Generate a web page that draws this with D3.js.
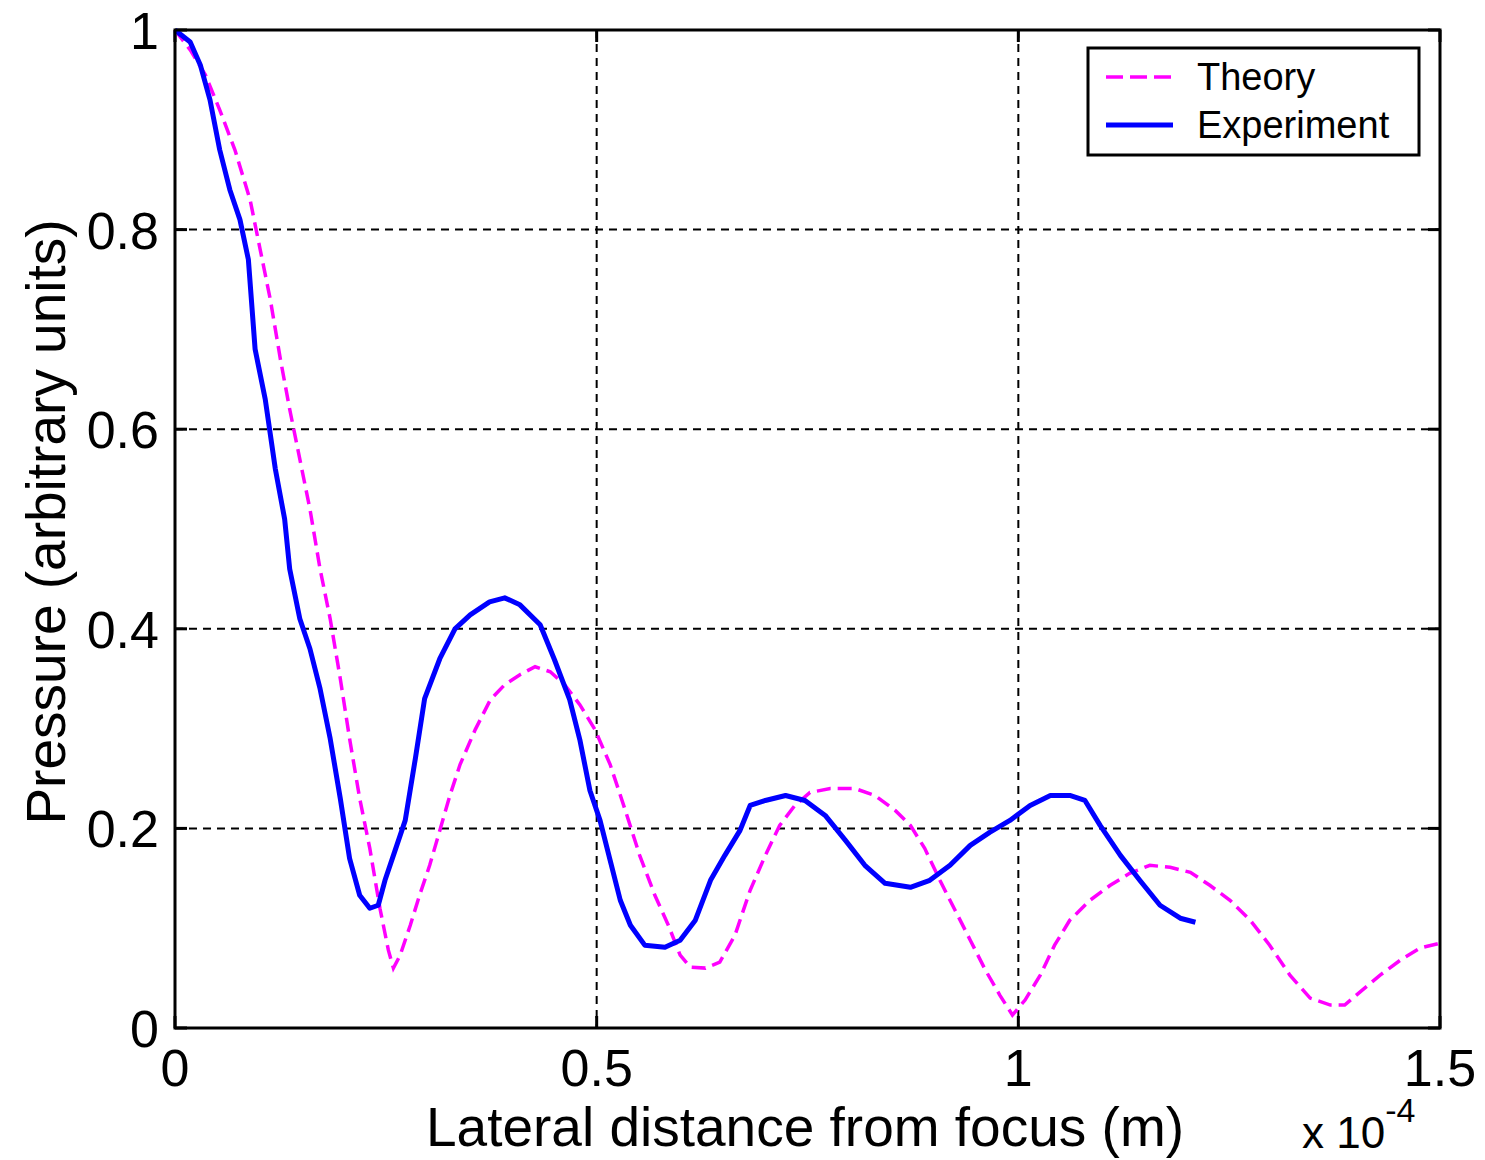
<!DOCTYPE html>
<html>
<head>
<meta charset="utf-8">
<script src="https://cdn.jsdelivr.net/npm/d3@7"></script>
<style>
  body { margin: 0; background: #fff; }
  svg { display: block; font-family: "Liberation Sans", Arial, sans-serif; }
</style>
</head>
<body>
<div id="chart"></div>
<script>
// x values are in units of 1e-4 m
const theoryX = [0, 0.018, 0.036, 0.053, 0.071, 0.089, 0.101, 0.113, 0.125, 0.136, 0.148, 0.16, 0.172, 0.184, 0.196, 0.207, 0.219, 0.231, 0.243, 0.253, 0.259, 0.267, 0.279, 0.29, 0.302, 0.314, 0.326, 0.338, 0.356, 0.374, 0.391, 0.409, 0.427, 0.445, 0.462, 0.48, 0.498, 0.516, 0.534, 0.551, 0.569, 0.585, 0.599, 0.611, 0.629, 0.646, 0.664, 0.682, 0.7, 0.717, 0.735, 0.753, 0.777, 0.806, 0.83, 0.854, 0.872, 0.889, 0.907, 0.925, 0.943, 0.961, 0.978, 0.993, 1.008, 1.026, 1.043, 1.061, 1.085, 1.109, 1.132, 1.156, 1.18, 1.204, 1.227, 1.251, 1.275, 1.298, 1.322, 1.346, 1.37, 1.387, 1.405, 1.429, 1.453, 1.476, 1.5];
const theoryY = [1, 0.98, 0.955, 0.92, 0.88, 0.83, 0.78, 0.73, 0.67, 0.62, 0.57, 0.52, 0.46, 0.41, 0.35, 0.29, 0.23, 0.18, 0.12, 0.078, 0.06, 0.073, 0.103, 0.133, 0.163, 0.198, 0.233, 0.264, 0.299, 0.329, 0.344, 0.354, 0.362, 0.357, 0.344, 0.324, 0.299, 0.264, 0.218, 0.173, 0.133, 0.103, 0.073, 0.061, 0.06, 0.066, 0.093, 0.138, 0.173, 0.203, 0.223, 0.236, 0.24, 0.24, 0.233, 0.218, 0.203, 0.18, 0.148, 0.118, 0.088, 0.058, 0.033, 0.013, 0.028, 0.053, 0.083, 0.108, 0.128, 0.143, 0.155, 0.163, 0.161, 0.156, 0.143, 0.128, 0.108, 0.083, 0.053, 0.03, 0.023, 0.023, 0.036, 0.053, 0.068, 0.08, 0.085];

const experimentX = [0, 0.018, 0.03, 0.0415, 0.053, 0.065, 0.077, 0.087, 0.095, 0.107, 0.119, 0.13, 0.136, 0.148, 0.16, 0.172, 0.184, 0.196, 0.207, 0.219, 0.231, 0.241, 0.249, 0.261, 0.273, 0.285, 0.296, 0.314, 0.332, 0.35, 0.373, 0.391, 0.409, 0.433, 0.45, 0.468, 0.48, 0.492, 0.504, 0.516, 0.528, 0.54, 0.557, 0.581, 0.599, 0.617, 0.635, 0.652, 0.67, 0.682, 0.7, 0.724, 0.747, 0.771, 0.795, 0.818, 0.842, 0.872, 0.895, 0.919, 0.943, 0.966, 0.99, 1.014, 1.038, 1.061, 1.079, 1.097, 1.121, 1.144, 1.168, 1.192, 1.21];
const experimentY = [1, 0.988, 0.965, 0.93, 0.88, 0.84, 0.81, 0.77, 0.68, 0.63, 0.56, 0.51, 0.46, 0.41, 0.38, 0.34, 0.29, 0.23, 0.17, 0.133, 0.12, 0.123, 0.148, 0.178, 0.208, 0.27, 0.33, 0.37, 0.4, 0.414, 0.427, 0.431, 0.424, 0.404, 0.369, 0.329, 0.289, 0.238, 0.208, 0.168, 0.128, 0.103, 0.083, 0.081, 0.088, 0.108, 0.148, 0.173, 0.198, 0.223, 0.228, 0.233, 0.228, 0.213, 0.188, 0.163, 0.145, 0.141, 0.148, 0.163, 0.183, 0.196, 0.208, 0.223, 0.233, 0.233, 0.228, 0.203, 0.173, 0.148, 0.123, 0.11, 0.106];

const xTicks = [0, 0.5, 1, 1.5];
const yTicks = [0, 0.2, 0.4, 0.6, 0.8, 1];
const seriesNames = ['Theory', 'Experiment'];

const width = 1485, height = 1160;
const margin = {top: 30, right: 45, bottom: 132, left: 175};

const svg = d3.select('#chart').append('svg')
    .attr('width', width)
    .attr('height', height);

const xScale = d3.scaleLinear().domain([0, 1.5]).range([margin.left, width - margin.right]);
const yScale = d3.scaleLinear().domain([0, 1]).range([height - margin.bottom, margin.top]);

const x0 = xScale(0), x1 = xScale(1.5), y0 = yScale(0), y1 = yScale(1);

// grid lines (dashed, black)
svg.append('g')
  .selectAll('line')
  .data(xTicks.slice(1, -1))
  .join('line')
    .attr('x1', d => xScale(d)).attr('x2', d => xScale(d))
    .attr('y1', y1).attr('y2', y0)
    .attr('stroke', '#000').attr('stroke-width', 2)
    .attr('stroke-dasharray', '8,6');

svg.append('g')
  .selectAll('line')
  .data(yTicks.slice(1, -1))
  .join('line')
    .attr('x1', x0).attr('x2', x1)
    .attr('y1', d => yScale(d)).attr('y2', d => yScale(d))
    .attr('stroke', '#000').attr('stroke-width', 2)
    .attr('stroke-dasharray', '8,6');

// inward ticks
const tickLen = 12;
svg.append('g')
  .selectAll('line')
  .data(xTicks)
  .join('line')
    .attr('x1', d => xScale(d)).attr('x2', d => xScale(d))
    .attr('y1', y0).attr('y2', y0 - tickLen)
    .attr('stroke', '#000').attr('stroke-width', 3);
svg.append('g')
  .selectAll('line')
  .data(xTicks)
  .join('line')
    .attr('x1', d => xScale(d)).attr('x2', d => xScale(d))
    .attr('y1', y1).attr('y2', y1 + tickLen)
    .attr('stroke', '#000').attr('stroke-width', 3);
svg.append('g')
  .selectAll('line')
  .data(yTicks)
  .join('line')
    .attr('x1', x0).attr('x2', x0 + tickLen)
    .attr('y1', d => yScale(d)).attr('y2', d => yScale(d))
    .attr('stroke', '#000').attr('stroke-width', 3);
svg.append('g')
  .selectAll('line')
  .data(yTicks)
  .join('line')
    .attr('x1', x1).attr('x2', x1 - tickLen)
    .attr('y1', d => yScale(d)).attr('y2', d => yScale(d))
    .attr('stroke', '#000').attr('stroke-width', 3);

// data lines
const line = d3.line()
    .x(d => xScale(d[0]))
    .y(d => yScale(d[1]));

const theory = theoryX.map((x, i) => [x, theoryY[i]]);
const experiment = experimentX.map((x, i) => [x, experimentY[i]]);

svg.append('path')
    .datum(theory)
    .attr('fill', 'none')
    .attr('stroke', '#ff00ff')
    .attr('stroke-width', 3.5)
    .attr('stroke-dasharray', '14,7')
    .attr('d', line);

svg.append('path')
    .datum(experiment)
    .attr('fill', 'none')
    .attr('stroke', '#0000ff')
    .attr('stroke-width', 5)
    .attr('stroke-linejoin', 'round')
    .attr('d', line);

// axes box
svg.append('rect')
    .attr('x', x0).attr('y', y1)
    .attr('width', x1 - x0).attr('height', y0 - y1)
    .attr('fill', 'none')
    .attr('stroke', '#000').attr('stroke-width', 3);

// tick labels
const fmt = d => String(d);
svg.append('g')
  .selectAll('text')
  .data(xTicks)
  .join('text')
    .attr('x', d => xScale(d))
    .attr('y', y0 + 58)
    .attr('text-anchor', 'middle')
    .attr('font-size', 52)
    .text(fmt);

svg.append('g')
  .selectAll('text')
  .data(yTicks)
  .join('text')
    .attr('x', x0 - 16)
    .attr('y', d => yScale(d) + 19)
    .attr('text-anchor', 'end')
    .attr('font-size', 52)
    .text(fmt);

// axis labels
svg.append('text')
    .attr('x', 805)
    .attr('y', 1146)
    .attr('text-anchor', 'middle')
    .attr('font-size', 55)
    .text('Lateral distance from focus (m)');

svg.append('text')
    .attr('transform', 'translate(65,522) rotate(-90)')
    .attr('text-anchor', 'middle')
    .attr('font-size', 55)
    .text('Pressure (arbitrary units)');

// exponent label
const expo = svg.append('text')
    .attr('x', 1302)
    .attr('y', 1148)
    .attr('font-size', 44);
expo.append('tspan').text('x 10');
expo.append('tspan').attr('dy', -26).attr('font-size', 34).text('-4');

// legend
const legend = svg.append('g');
legend.append('rect')
    .attr('x', 1088).attr('y', 48)
    .attr('width', 331).attr('height', 107)
    .attr('fill', '#fff')
    .attr('stroke', '#000').attr('stroke-width', 3);

const legendRows = [
  {name: seriesNames[0], color: '#ff00ff', dash: '17,7', w: 3.5, y: 77},
  {name: seriesNames[1], color: '#0000ff', dash: null, w: 5, y: 125}
];
legendRows.forEach(r => {
  legend.append('line')
      .attr('x1', 1106).attr('x2', 1173)
      .attr('y1', r.y).attr('y2', r.y)
      .attr('stroke', r.color)
      .attr('stroke-width', r.w)
      .attr('stroke-dasharray', r.dash);
  legend.append('text')
      .attr('x', 1197)
      .attr('y', r.y + 13)
      .attr('font-size', 38)
      .text(r.name);
});
</script>
</body>
</html>
